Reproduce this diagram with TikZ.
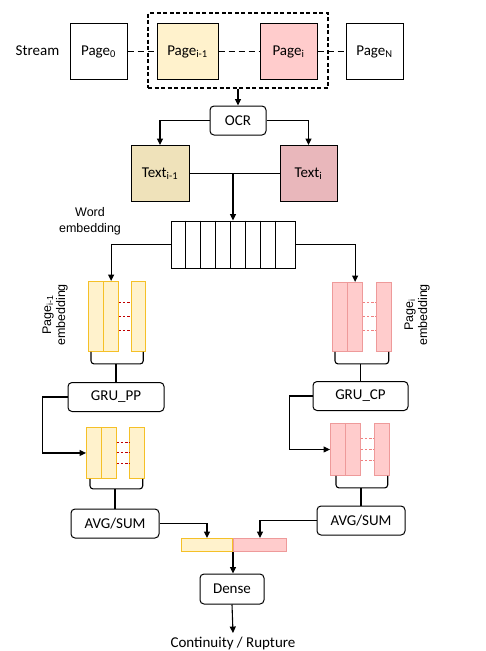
\documentclass[tikz,border=0pt]{standalone}
\usepackage{fontspec}
\setmainfont{Carlito}
\newfontfamily\labelfont{Liberation Sans}
\usetikzlibrary{arrows.meta,positioning,calc}
\definecolor{cprev}{HTML}{FFF2CC}
\definecolor{cprevd}{HTML}{F5C027}
\definecolor{ccur}{HTML}{FFCCCC}
\definecolor{ccurd}{HTML}{EE9A9A}
\definecolor{ctprev}{HTML}{EFE2BA}
\definecolor{ctcur}{HTML}{E9B7BB}
\definecolor{cgapprev}{HTML}{C00000}
\definecolor{cgapcur}{HTML}{F08080}
\newcommand{\idx}[1]{\textsubscript{#1}}

\begin{document}
\begin{tikzpicture}[
  x=1pt, y=1pt,
  font=\fontsize{15}{18}\selectfont,
  pagebox/.style={draw, line width=1pt, minimum width=#1, minimum height=56pt, inner sep=0pt},
  op/.style={draw, rounded corners=4pt, line width=1pt, minimum width=#1, minimum height=29pt, inner sep=0pt},
  col/.style={draw, line width=0.9pt, minimum width=14.5pt, minimum height=#1, inner sep=0pt, anchor=north west},
  cat/.style={line width=1pt, minimum height=13pt, minimum width=#1, inner sep=0pt, anchor=north west},
  link/.style={-{Stealth[length=6.5pt, width=6pt, inset=0pt]}, line width=1.1pt},
  wire/.style={line width=1.1pt},
  brace/.style={line width=1.1pt, rounded corners=3pt},
  gap/.style={dash pattern=on 2.5pt off 1.6pt, line width=1pt},
  skip/.style={dash pattern=on 6pt off 4pt, line width=1.2pt},
  side/.style={font=\labelfont\fontsize{12.5}{14}\selectfont, align=center},
]
\useasboundingbox (0,0) rectangle (486,-651);

% ------------------------------------------------------------ stream
\node (stream) at (37.5,-51) {Stream};
\node[pagebox=57pt] (page0) at (98.5,-51.5) {Page\idx{0}};
\node[pagebox=61pt, fill=cprev] (pprev) at (187.5,-51.5) {Page\idx{i-1}};
\node[pagebox=57pt, fill=ccur] (pcur) at (288.5,-51.5) {Page\idx{i}};
\node[pagebox=57pt] (pageN) at (374.5,-51.5) {Page\idx{N}};
\node[draw, dash pattern=on 4pt off 2.5pt, line width=1.1pt, minimum width=180pt, minimum height=75pt] (win) at (238,-50.5) {};
\draw[skip] (page0.east) -- (pprev.west);
\draw[skip] (pprev.east) -- (pcur.west);
\draw[skip] (pcur.east) -- (pageN.west);

% ------------------------------------------------------------ ocr
\node[op=56pt] (ocr) at (238,-120.5) {OCR};
\draw[link] (win.south) -- (ocr.north);
\node[pagebox=58pt, fill=ctprev] (tprev) at (160,-173.5) {Text\idx{i-1}};
\node[pagebox=57pt, fill=ctcur] (tcur) at (308.5,-173.5) {Text\idx{i}};
\draw[link] (ocr.west) -| (tprev.north);
\draw[link] (ocr.east) -| (tcur.north);

% ------------------------------------------------------------ word embedding
\node[draw, line width=1pt, minimum width=124pt, minimum height=47pt, inner sep=0pt] (wemb) at (233,-244.5) {};
\foreach \i in {1,...,7}
  \draw[line width=1pt] ([xshift=\i*15pt]wemb.north west) -- ([xshift=\i*15pt]wemb.south west);
\node[side, font=\labelfont\fontsize{12.5}{16}\selectfont] (wlbl) at (90,-221) {Word\\embedding};
\draw[wire] (tprev.east) -- (tcur.west);
\draw[link] (tprev.east -| wemb.north) -- (wemb.north);

% ------------------------------------------------------------ previous page
\node[col=70pt, fill=cprev, draw=cprevd] (ea1) at (88,-281) {};
\node[col=70pt, fill=cprev, draw=cprevd] (ea2) at (ea1.north east) {};
\node[col=70pt, fill=cprev, draw=cprevd] (ea3) at ([xshift=12pt]ea2.north east) {};
\foreach \f in {0.3,0.5,0.7}
  \draw[gap, draw=cgapprev] ($(ea2.north east)!\f!(ea2.south east)$) -- ($(ea3.north west)!\f!(ea3.south west)$);
\draw[link] (wemb.west) -| (ea2.north);
\node[side, rotate=90] (lprev) at (55,-315) {Page\idx{i-1}\\embedding};

\node[op=96pt] (grupp) at (116,-397) {GRU\_PP};
\draw[brace] ([xshift=3pt]ea1.south west) -- ++(0,-12) coordinate (bra) -| ([xshift=-3pt]ea3.south east);
\draw[wire] (bra -| grupp.north) -- (grupp.north);

\node[col=51pt, fill=cprev, draw=cprevd] (fa1) at (86,-427) {};
\node[col=51pt, fill=cprev, draw=cprevd] (fa2) at (fa1.north east) {};
\node[col=51pt, fill=cprev, draw=cprevd] (fa3) at ([xshift=12.5pt]fa2.north east) {};
\foreach \f in {0.3,0.5,0.7}
  \draw[gap, draw=cgapprev] ($(fa2.north east)!\f!(fa2.south east)$) -- ($(fa3.north west)!\f!(fa3.south west)$);
\draw[link] (grupp.west) -- ++(-25,0) |- (fa1.west);

\node[op=88pt] (avgprev) at (115,-523.5) {AVG/SUM};
\draw[brace] ([xshift=4pt]fa1.south west) -- ++(0,-10) coordinate (brb) -| ([xshift=-2pt]fa3.south east);
\draw[wire] (brb -| avgprev.north) -- (avgprev.north);

% ------------------------------------------------------------ current page
\node[col=69pt, fill=ccur, draw=ccurd] (eb1) at (332,-282) {};
\node[col=69pt, fill=ccur, draw=ccurd] (eb2) at (eb1.north east) {};
\node[col=69pt, fill=ccur, draw=ccurd] (eb3) at ([xshift=13.5pt]eb2.north east) {};
\foreach \f in {0.3,0.5,0.7}
  \draw[gap, draw=cgapcur] ($(eb2.north east)!\f!(eb2.south east)$) -- ($(eb3.north west)!\f!(eb3.south west)$);
\draw[link] (wemb.east) -| (eb2.north);
\node[side, rotate=90] (lcur) at (417,-315) {Page\idx{i}\\embedding};

\node[op=95pt] (grucp) at (360.5,-396) {GRU\_CP};
\draw[brace] ([xshift=3pt]eb1.south west) -- ++(0,-12) coordinate (brc) -| ([xshift=-3pt]eb3.south east);
\draw[wire] (brc -| grucp.north) -- (grucp.north);

\node[col=52pt, fill=ccur, draw=ccurd] (fb1) at (330,-423) {};
\node[col=52pt, fill=ccur, draw=ccurd] (fb2) at (fb1.north east) {};
\node[col=52pt, fill=ccur, draw=ccurd] (fb3) at ([xshift=13.5pt]fb2.north east) {};
\foreach \f in {0.3,0.5,0.7}
  \draw[gap, draw=cgapcur] ($(fb2.north east)!\f!(fb2.south east)$) -- ($(fb3.north west)!\f!(fb3.south west)$);
\draw[link] (grucp.west) -- ++(-23,0) |- (fb1.west);

\node[op=88pt] (avgcur) at (361,-520.5) {AVG/SUM};
\draw[brace] ([xshift=6pt]fb1.south west) -- ++(0,-12) coordinate (brd) -| ([xshift=-2pt]fb3.south east);
\draw[wire] (brd -| avgcur.north) -- (avgcur.north);

% ------------------------------------------------------------ merge
\node[cat=51pt, fill=cprev, draw=cprevd] (catprev) at (181,-538) {};
\node[cat=53pt, fill=ccur, draw=ccurd] (catcur) at (catprev.north east) {};
\draw[link] (avgprev.east) -| (catprev.north);
\draw[link] (avgcur.west) -| (catcur.north);

\node[op=64pt, minimum height=30pt] (dense) at (232,-589) {Dense};
\draw[link] (catprev.south east) -- (catprev.south east |- dense.north);
\node (out) at (233,-643) {Continuity / Rupture};
\draw[link] (dense.south) -- (out.north);

\end{tikzpicture}
\end{document}
